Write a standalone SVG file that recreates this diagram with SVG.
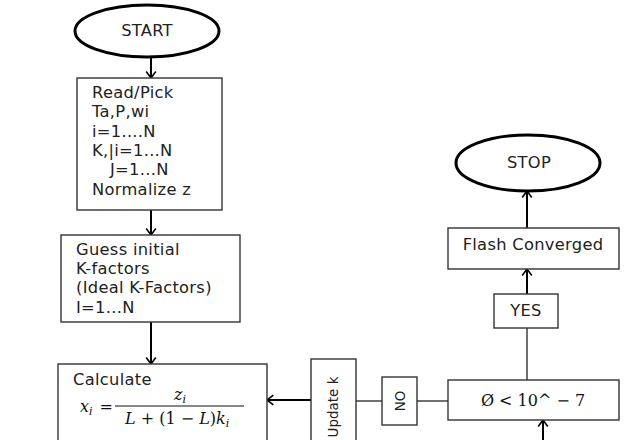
<svg xmlns="http://www.w3.org/2000/svg" width="640" height="440" viewBox="0 0 640 440">
<style>
.box{fill:#fff;stroke:#333;stroke-width:1.4}
.term{fill:#fff;stroke:#000;stroke-width:3}
.t{font-family:"DejaVu Sans","Liberation Sans",sans-serif;font-size:16.3px;letter-spacing:0.3px;fill:#222}
.r{font-family:"DejaVu Sans","Liberation Sans",sans-serif;font-size:13.5px;fill:#222}
.m{font-family:"DejaVu Serif","Liberation Serif",serif;font-size:16px;font-style:italic;fill:#111}
.mu{font-family:"DejaVu Serif","Liberation Serif",serif;font-size:16px;font-style:normal;fill:#111}
.s{font-size:11px}
.c{stroke:#000;stroke-width:2;fill:none}
.cl{stroke:#222;stroke-width:1.3;fill:none}
</style>
<defs>
<marker id="ah" viewBox="0 0 10 14" refX="9" refY="7" markerWidth="8" markerHeight="13" orient="auto" markerUnits="userSpaceOnUse">
<path d="M1,1 L9,7 L1,13" fill="none" stroke="#000" stroke-width="2"/>
</marker>
</defs>
<rect width="640" height="440" fill="#fff"/>
<g id="connectors">
<line class="c" x1="151" y1="57" x2="151" y2="78" marker-end="url(#ah)"/>
<line class="c" x1="151" y1="210" x2="151" y2="235" marker-end="url(#ah)"/>
<line class="c" x1="151" y1="322" x2="151" y2="364" marker-end="url(#ah)"/>
<line class="c" x1="311" y1="400" x2="267" y2="400" marker-end="url(#ah)"/>
<line class="cl" x1="356" y1="401" x2="382" y2="401"/>
<line class="cl" x1="417" y1="401" x2="448" y2="401"/>
<line class="c" x1="543" y1="440" x2="543" y2="420" marker-end="url(#ah)"/>
<line class="cl" x1="527" y1="380" x2="527" y2="328"/>
<line class="c" x1="527" y1="294" x2="527" y2="269" marker-end="url(#ah)"/>
<line class="c" x1="527" y1="228" x2="527" y2="191" marker-end="url(#ah)"/>
</g>
<g id="start">
<ellipse class="term" cx="147" cy="31" rx="72" ry="26"/>
<text class="t" x="147" y="36" text-anchor="middle">START</text>
</g>
<g id="read">
<rect class="box" x="77" y="78" width="145" height="132"/>
<text class="t" x="92" y="98">Read/Pick</text>
<text class="t" x="92" y="117">Ta,P,wi</text>
<text class="t" x="92" y="137">i=1....N</text>
<text class="t" x="92" y="156">K,|i=1...N</text>
<text class="t" x="110" y="175">J=1...N</text>
<text class="t" x="92" y="195">Normalize z</text>
</g>
<g id="guess">
<rect class="box" x="61" y="235" width="179" height="87"/>
<text class="t" x="76" y="255">Guess initial</text>
<text class="t" x="76" y="274">K-factors</text>
<text class="t" x="76" y="293">(Ideal K-Factors)</text>
<text class="t" x="76" y="313">I=1...N</text>
</g>
<g id="calculate">
<rect class="box" x="58" y="364" width="209" height="90"/>
<text class="t" x="73" y="385">Calculate</text>
<text class="m" x="80" y="412">x<tspan class="s" dy="3">i</tspan><tspan class="mu" dy="-3" dx="7">=</tspan></text>
<text class="m" x="180" y="400" text-anchor="middle">z<tspan class="s" dy="3">i</tspan></text>
<line x1="115" y1="406" x2="244" y2="406" stroke="#111" stroke-width="1.2"/>
<text class="m" x="125" y="424">L<tspan class="mu"> + (1 − </tspan>L<tspan class="mu">)</tspan>k<tspan class="s" dy="3">i</tspan></text>
</g>
<g id="update">
<rect class="box" x="311" y="359" width="45" height="95"/>
<text class="r" transform="translate(338,407) rotate(-90)" text-anchor="middle">Update k</text>
</g>
<g id="no">
<rect class="box" x="382" y="377" width="35" height="48"/>
<text class="r" transform="translate(404.5,401) rotate(-90)" text-anchor="middle">NO</text>
</g>
<g id="condition">
<rect class="box" x="448" y="380" width="171" height="40"/>
<text class="mu" x="533" y="406" text-anchor="middle" font-size="18">Ø &lt; 10^ − 7</text>
</g>
<g id="yes">
<rect class="box" x="494" y="294" width="64" height="34"/>
<text class="t" x="526" y="316" text-anchor="middle">YES</text>
</g>
<g id="flash">
<rect class="box" x="448" y="228" width="171" height="41"/>
<text class="t" x="533" y="250" text-anchor="middle">Flash Converged</text>
</g>
<g id="stop">
<ellipse class="term" cx="528" cy="163" rx="72" ry="28"/>
<text class="t" x="529" y="168" text-anchor="middle">STOP</text>
</g>
</svg>
